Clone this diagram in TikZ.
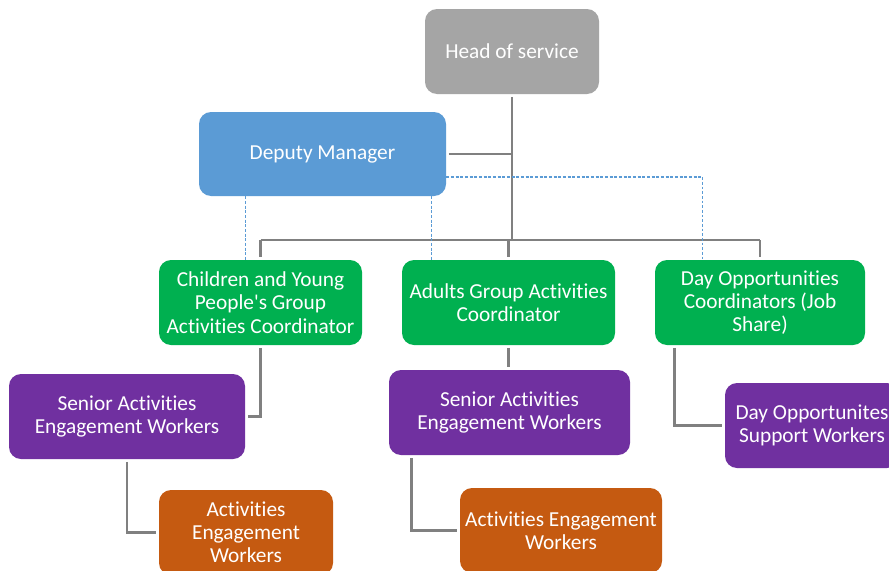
\documentclass[tikz,border=0pt]{standalone}
\usepackage{fontspec}
\setmainfont{Carlito}[Ligatures={NoCommon}]
\definecolor{cgray}{HTML}{A5A5A5}
\definecolor{cblue}{HTML}{5B9BD5}
\definecolor{cgreen}{HTML}{00B050}
\definecolor{cpurple}{HTML}{7030A0}
\definecolor{corange}{HTML}{C55A11}
\definecolor{cline}{HTML}{808080}
\begin{document}
\begin{tikzpicture}[x=0.75pt,y=-0.75pt,
  box/.style={rounded corners=9pt, text=white, align=center, inner sep=0pt,
    font=\fontsize{16pt}{17.4pt}\selectfont, minimum height=85*0.75pt},
  conn/.style={draw=cline, line width=2.2pt, shorten <=2pt, shorten >=2pt},
  dash line/.style={draw=cblue, line width=0.8pt, dash pattern=on 2.2pt off 1.3pt}]
\useasboundingbox (0,0) rectangle (889,571);
\clip (0,0) rectangle (889,571);
\fill[white] (0,0) rectangle (889,571);
% nodes
\node[box, fill=cgray, minimum width=174*0.75pt] (head) at (512,51.5) {Head of service};
\node[box, fill=cblue, minimum width=247*0.75pt, minimum height=84*0.75pt] (dep) at (322.5,154) {Deputy Manager};
\node[box, fill=cgreen, minimum width=203*0.75pt] (child) at (260.5,302.5) {Children and Young\\People\textquotesingle s Group\\Activities Coordinator};
\node[box, fill=cgreen, minimum width=213*0.75pt] (adult) at (508.5,302.5) {Adults Group Activities\\Coordinator};
\node[box, fill=cgreen, minimum width=210*0.75pt] (dayc) at (760,302.5) {Day Opportunities\\Coordinators (Job\\Share)};
\node[box, fill=cpurple, minimum width=236*0.75pt] (senL) at (127,416.5) {Senior Activities\\Engagement Workers};
\node[box, fill=cpurple, minimum width=241*0.75pt] (senM) at (509.5,412.5) {Senior Activities\\Engagement Workers};
\node[box, fill=cpurple, minimum width=174*0.75pt] (supp) at (812,425.5) {Day Opportunites\\Support Workers};
\node[box, fill=corange, minimum width=174*0.75pt] (aewL) at (246,532.5) {Activities\\Engagement\\Workers};
\node[box, fill=corange, minimum width=202*0.75pt] (aewM) at (561,530.5) {Activities Engagement\\Workers};
% bus coordinate
\coordinate (bus) at (512,240);
% solid connectors
\draw[conn, shorten >=0pt] (head.south) -- (bus);
\draw[conn, shorten >=0pt] (dep.east) -- (dep.east -| head.south);
\draw[conn, shorten <=0pt] (child.north |- bus) -- (child.north);
\draw[draw=cline, line width=2.2pt] (child.north |- bus) -- (dayc.north |- bus);
\draw[conn, shorten <=0pt] (adult.north |- bus) -- (adult.north);
\draw[conn, shorten <=0pt] (dayc.north |- bus) -- (dayc.north);
\draw[conn] (child.south) |- (senL.east);
\draw[conn] (adult.south) -- (adult.south |- senM.north);
\draw[conn] ([xshift=20*0.75pt]dayc.south west) |- (supp.west);
\draw[conn] (senL.south) |- (aewL.west);
\draw[conn] ([xshift=23*0.75pt]senM.south west) |- (aewM.west);
% dashed connectors
\coordinate (d1) at ([xshift=47*0.75pt]dep.south west);
\coordinate (d2) at ([xshift=-15*0.75pt]dep.south east);
\coordinate (d3) at ([yshift=-23*0.75pt]dep.east);
\coordinate (d3e) at ([xshift=48*0.75pt]dayc.north west);
\draw[dash line] (d1) -- (d1 |- child.north);
\draw[dash line] (d2) -- (d2 |- adult.north);
\draw[dash line] (d3) -| (d3e);
\end{tikzpicture}
\end{document}
